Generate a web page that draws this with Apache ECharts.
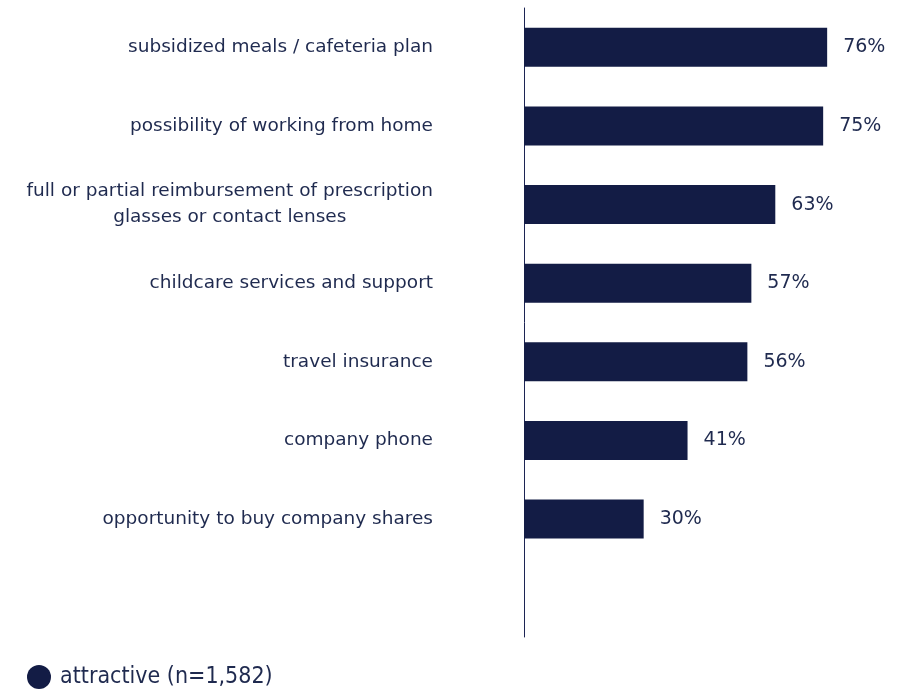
<!DOCTYPE html>
<html>
<head>
<meta charset="utf-8">
<script src="https://cdn.jsdelivr.net/npm/echarts@6/dist/echarts.min.js"></script>
<style>
  html, body { margin: 0; padding: 0; background: #fff; }
  #chart { width: 902px; height: 695px; }
</style>
</head>
<body>
<div id="chart"></div>
<script>
const categories = [
  "subsidized meals / cafeteria plan",
  "possibility of working from home",
  "full or partial reimbursement of prescription\nglasses or contact lenses",
  "childcare services and support",
  "travel insurance",
  "company phone",
  "opportunity to buy company shares",
  ""
];
const values = [76, 75, 63, 57, 56, 41, 30];
const seriesName = "attractive (n=1,582)";

const navy = "#131c45";
const textColor = "#1f2a4f";
const labelFont = "DejaVu Sans";

const chart = echarts.init(document.getElementById("chart"));
chart.setOption({
  animation: false,
  grid: { left: 524, top: 8, width: 359, height: 629 },
  legend: {
    left: 22,
    top: 660,
    icon: "circle",
    itemWidth: 24,
    itemHeight: 24,
    itemGap: 10,
    textStyle: { fontSize: 23, color: textColor, fontFamily: "DejaVu Sans Condensed", padding: [0, 0, 0, 4] },
    data: [seriesName]
  },
  xAxis: {
    type: "value",
    min: 0,
    max: 90,
    show: false
  },
  yAxis: {
    type: "category",
    inverse: true,
    data: categories,
    axisLine: { show: true, lineStyle: { color: "#1c2454", width: 1 } },
    axisTick: { show: false },
    axisLabel: {
      margin: 91,
      fontSize: 18.5,
      fontFamily: labelFont,
      color: textColor,
      formatter: (v) => v.split("\n").map(s => "{c|" + s + "}").join("\n"),
      rich: { c: { align: "center", fontSize: 18.5, fontFamily: labelFont, color: textColor, lineHeight: 26 } }
    }
  },
  series: [{
    name: seriesName,
    type: "bar",
    data: values,
    barWidth: 39,
    itemStyle: { color: navy },
    label: {
      show: true,
      position: "right",
      distance: 16,
      formatter: "{c}%",
      fontSize: 19,
      fontFamily: labelFont,
      color: textColor
    }
  }]
});
</script>
</body>
</html>
